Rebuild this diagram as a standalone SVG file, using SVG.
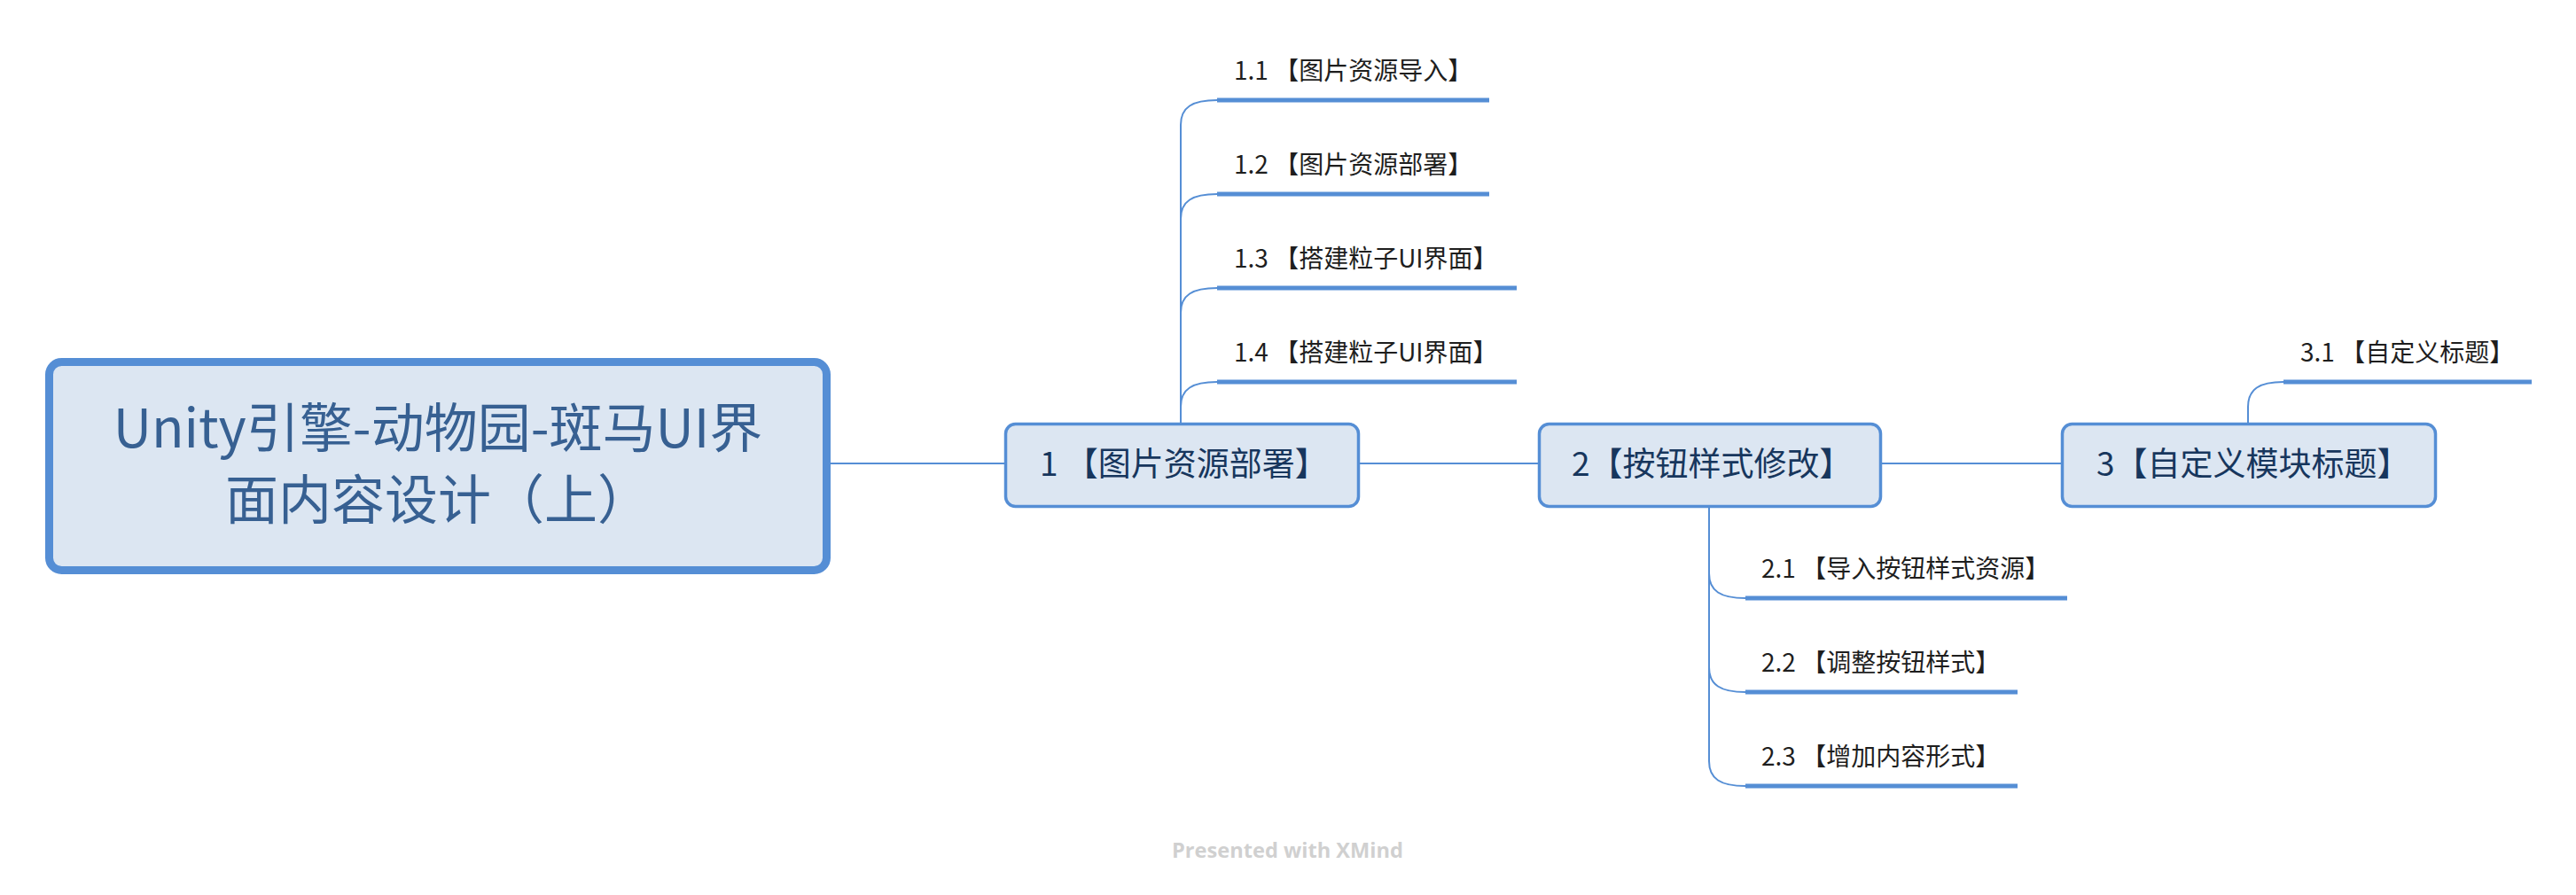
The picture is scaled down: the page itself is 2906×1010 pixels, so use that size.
<svg xmlns="http://www.w3.org/2000/svg" width="2906" height="1010" viewBox="0 0 2906 1010">
<style>
.root-box{fill:#DCE6F2;stroke:#558ED5;stroke-width:9}
.main-box{fill:#DCE6F2;stroke:#558ED5;stroke-width:3.5}
.root-text{font-family:"Noto Sans CJK SC","Noto Sans",sans-serif;font-size:60px;fill:#376092;text-anchor:middle}
.main-text{font-family:"Noto Sans CJK SC","Noto Sans",sans-serif;font-size:37px;fill:#17365D}
.sub-text{font-family:"Noto Sans CJK SC","Noto Sans",sans-serif;font-size:28px;fill:#1E1E1E}
.underline{stroke:#558ED5;stroke-width:5;fill:none}
.conn{stroke:#558ED5;stroke-width:2;fill:none}
.wm{font-family:"Open Sans","Liberation Sans",sans-serif;font-size:23px;font-weight:bold;fill:#D0D0D0}
</style>
<rect width="2906" height="1010" fill="#FFFFFF"/>
<g id="connectors">
<path class="conn" d="M937,523 H1136"/>
<path class="conn" d="M1532,523 H1737"/>
<path class="conn" d="M2121,523 H2327"/>
<path class="conn" d="M1332,477 V141 C1332,121 1345,113 1373,113"/>
<path class="conn" d="M1332,477 V247 C1332,227 1345,219 1373,219"/>
<path class="conn" d="M1332,477 V353 C1332,333 1345,325 1373,325"/>
<path class="conn" d="M1332,477 V459 C1332,439 1345,431 1373,431"/>
<path class="conn" d="M1928,573 V647 C1928,667 1941,675 1969,675"/>
<path class="conn" d="M1928,573 V753 C1928,773 1941,781 1969,781"/>
<path class="conn" d="M1928,573 V859 C1928,879 1941,887 1969,887"/>
<path class="conn" d="M2536,477 V459 C2536,439 2549,431 2576,431"/>
</g>
<g id="root">
<rect class="root-box" x="55.5" y="408.5" width="877" height="235" rx="14"/>
<text class="root-text" x="494" y="505">Unity引擎-动物园-斑马UI界</text>
<text class="root-text" x="494" y="586">面内容设计（上）</text>
</g>
<g id="topic-1">
<rect class="main-box" x="1134.5" y="478.5" width="398" height="93" rx="11"/>
<text class="main-text" x="1173" y="537">1 【图片资源部署】</text>
</g>
<g id="topic-2">
<rect class="main-box" x="1736.5" y="478.5" width="385" height="93" rx="11"/>
<text class="main-text" x="1773" y="537">2【按钮样式修改】</text>
</g>
<g id="topic-3">
<rect class="main-box" x="2326.5" y="478.5" width="421" height="93" rx="11"/>
<text class="main-text" x="2365" y="537">3【自定义模块标题】</text>
</g>
<g id="topic-1-1">
<line class="underline" x1="1373" y1="113" x2="1680" y2="113"/>
<text class="sub-text" x="1392" y="90">1.1 【图片资源导入】</text>
</g>
<g id="topic-1-2">
<line class="underline" x1="1373" y1="219" x2="1680" y2="219"/>
<text class="sub-text" x="1392" y="196">1.2 【图片资源部署】</text>
</g>
<g id="topic-1-3">
<line class="underline" x1="1373" y1="325" x2="1711" y2="325"/>
<text class="sub-text" x="1392" y="302">1.3 【搭建粒子UI界面】</text>
</g>
<g id="topic-1-4">
<line class="underline" x1="1373" y1="431" x2="1711" y2="431"/>
<text class="sub-text" x="1392" y="408">1.4 【搭建粒子UI界面】</text>
</g>
<g id="topic-2-1">
<line class="underline" x1="1969" y1="675" x2="2332" y2="675"/>
<text class="sub-text" x="1987" y="652">2.1 【导入按钮样式资源】</text>
</g>
<g id="topic-2-2">
<line class="underline" x1="1969" y1="781" x2="2276" y2="781"/>
<text class="sub-text" x="1987" y="758">2.2 【调整按钮样式】</text>
</g>
<g id="topic-2-3">
<line class="underline" x1="1969" y1="887" x2="2276" y2="887"/>
<text class="sub-text" x="1987" y="864">2.3 【增加内容形式】</text>
</g>
<g id="topic-3-1">
<line class="underline" x1="2576" y1="431" x2="2856" y2="431"/>
<text class="sub-text" x="2595" y="408">3.1 【自定义标题】</text>
</g>
<text class="wm" x="1322" y="968" textLength="261" lengthAdjust="spacingAndGlyphs">Presented with XMind</text>
</svg>
